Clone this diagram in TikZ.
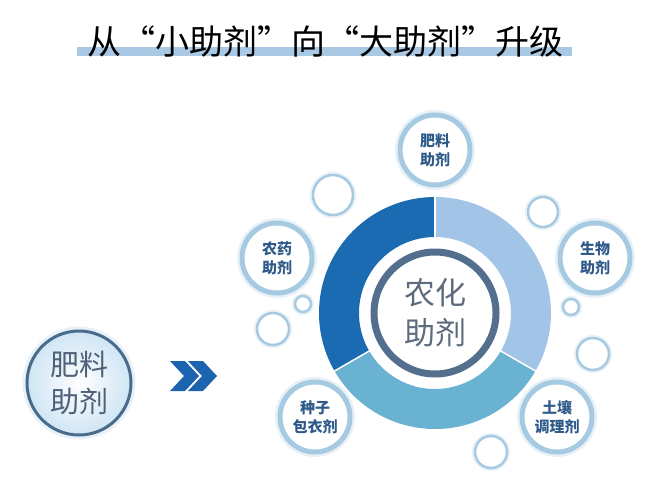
\documentclass[tikz,border=0pt]{standalone}
\usepackage{fontspec}
\setmainfont{Noto Sans CJK SC}
\usetikzlibrary{shadings}
\definecolor{dkblue}{HTML}{1B6BB2}
\definecolor{ltblue}{HTML}{A2C5E7}
\definecolor{mdblue}{HTML}{6AB2D2}
\definecolor{ringc}{HTML}{A6CAE2}
\definecolor{haloc}{HTML}{E8F1F8}
\definecolor{sattext}{HTML}{2E5A8A}
\definecolor{centring}{HTML}{546E8E}
\definecolor{centtext}{HTML}{5D6B7D}
\definecolor{barc}{HTML}{A8C8E4}
\definecolor{chevc}{HTML}{1C64B0}
\definecolor{leftborder}{HTML}{4A6C8C}
\definecolor{leftfill}{HTML}{CFE5F4}
\definecolor{lefttext}{HTML}{4F6178}
\tikzset{
  sat/.style={circle, minimum size=70pt, inner sep=0pt, draw=ringc, line width=5pt, fill=white,
    text=sattext, align=center, font=\bfseries\fontsize{15}{19}\selectfont,
    preaction={draw=haloc, line width=10pt}},
  bubble/.style={circle, inner sep=0pt, draw=ringc, line width=2.5pt, fill=white,
    preaction={draw=haloc, line width=6pt}},
}
\begin{document}
\begin{tikzpicture}[x=1pt,y=-1pt]
\useasboundingbox (0,0) rectangle (650,495);
\fill[white] (0,0) rectangle (650,495);
% title
\fill[barc] (77,47) rectangle (572,56);
\node[font=\fontsize{34}{40}\selectfont, text=black, inner sep=0pt] (title) at (325,41) {从“小助剂”向“大助剂”升级};
% donut
\begin{scope}[shift={(435,313)}, yscale=-1]
  \fill[ltblue] (90:116) arc[start angle=90, end angle=-30, radius=116] -- (-30:76) arc[start angle=-30, end angle=90, radius=76] -- cycle;
  \fill[dkblue] (90:116) arc[start angle=90, end angle=210, radius=116] -- (210:76) arc[start angle=210, end angle=90, radius=76] -- cycle;
  \fill[mdblue] (210:116) arc[start angle=210, end angle=330, radius=116] -- (330:76) arc[start angle=330, end angle=210, radius=76] -- cycle;
  \foreach \a in {90,210,330} \draw[white, line width=1.5pt] (\a:74) -- (\a:118);
\end{scope}
\node[circle, minimum size=122pt, inner sep=0pt, draw=centring, line width=7pt, fill=white,
  text=centtext, align=center, font=\fontsize{31}{40}\selectfont] (center) at (435,313) {农化\\助剂};
% satellites
\node[sat] (s1) at (435,150) {肥料\\助剂};
\node[sat] (s2) at (277,258) {农药\\助剂};
\node[sat] (s3) at (595,258) {生物\\助剂};
\node[sat] (s4) at (315,417) {种子\\包衣剂};
\node[sat] (s5) at (557,417) {土壤\\调理剂};
% bubbles
\node[bubble, minimum size=40pt] (b1) at (333,195) {};
\node[bubble, minimum size=30pt] (b2) at (543,212) {};
\node[bubble, minimum size=16pt] (b3) at (303,304) {};
\node[bubble, minimum size=32pt] (b4) at (273,329) {};
\node[bubble, minimum size=16pt] (b5) at (571,307) {};
\node[bubble, minimum size=32pt] (b6) at (593,354) {};
\node[bubble, minimum size=32pt] (b7) at (491,452) {};
% left circle
\node[circle, minimum size=104pt, inner sep=0pt, draw=leftborder, line width=3pt,
  inner color=white, outer color=leftfill, text=lefttext, align=center,
  font=\fontsize{29}{37}\selectfont,
  preaction={draw=haloc, line width=9pt}] (left) at (79,383) {肥料\\助剂};
% chevrons
\fill[chevc] (170,361) -- (185,361) -- (199,376) -- (185,391) -- (170,391) -- (184,376) -- cycle;
\fill[chevc] (188,361) -- (203,361) -- (217,376) -- (203,391) -- (188,391) -- (202,376) -- cycle;
\end{tikzpicture}
\end{document}
